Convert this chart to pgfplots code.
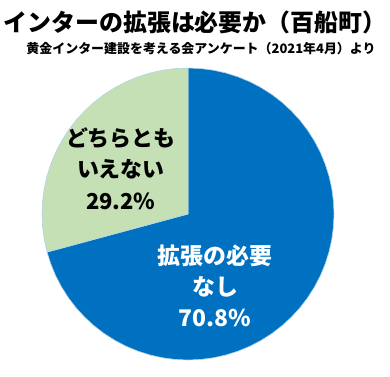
\documentclass[border=0pt]{standalone}
\usepackage{pgfplots}
\pgfplotsset{compat=1.18}
\usepackage{fontspec}
\newfontfamily\cjk{Noto Sans CJK JP}
\definecolor{pieblue}{HTML}{0070C0}
\definecolor{piegreen}{HTML}{C5E0B4}
\begin{document}
\begin{tikzpicture}[x=1bp,y=1bp]
\path[use as bounding box] (0,0) rectangle (390,377);
\node[font=\cjk\bfseries\fontsize{24}{28}\selectfont,inner sep=0] at (195,355) {インターの拡張は必要か（百船町）};
\node[font=\cjk\bfseries\fontsize{13}{15}\selectfont,inner sep=0] at (201,328) {黄金インター建設を考える会アンケート（2021年4月）より};
\begin{axis}[at={(188bp,163bp)},anchor=center,
  width=292bp,height=292bp,scale only axis,
  xmin=-1,xmax=1,ymin=-1,ymax=1,hide axis,clip=false]
% blue 70.8%
\addplot[fill=pieblue,draw=white!70!pieblue,line width=0.6pt,data cs=polar] coordinates {
(0,0) (195.12,1) (200,1) (205,1) (210,1) (215,1) (220,1) (225,1) (230,1) (235,1) (240,1)
(245,1) (250,1) (255,1) (260,1) (265,1) (270,1) (275,1) (280,1) (285,1) (290,1)
(295,1) (300,1) (305,1) (310,1) (315,1) (320,1) (325,1) (330,1) (335,1) (340,1)
(345,1) (350,1) (355,1) (360,1) (365,1) (370,1) (375,1) (380,1) (385,1) (390,1)
(395,1) (400,1) (405,1) (410,1) (415,1) (420,1) (425,1) (430,1) (435,1) (440,1)
(445,1) (450,1)} -- cycle;
% green 29.2%
\addplot[fill=piegreen,draw=white!70!pieblue,line width=0.6pt,data cs=polar] coordinates {
(0,0) (90,1) (95,1) (100,1) (105,1) (110,1) (115,1) (120,1) (125,1) (130,1) (135,1)
(140,1) (145,1) (150,1) (155,1) (160,1) (165,1) (170,1) (175,1) (180,1) (185,1)
(190,1) (195,1) (195.12,1)} -- cycle;
\node[font=\cjk\bfseries\fontsize{22}{32}\selectfont,align=center,text=black] at (axis cs:-0.46,0.31) {どちらとも\\いえない\\29.2\%};
\node[font=\cjk\bfseries\fontsize{23}{31}\selectfont,align=center,text=white] at (axis cs:0.185,-0.49) {拡張の必要\\なし\\70.8\%};
\end{axis}
\end{tikzpicture}
\end{document}
